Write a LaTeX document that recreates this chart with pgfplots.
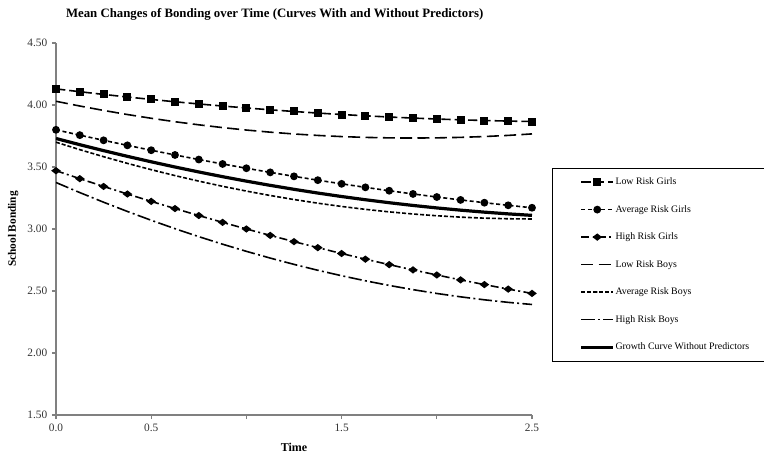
\documentclass[border=0pt]{standalone}
\usepackage{fontspec}
\setmainfont{Liberation Serif}
\usepackage{pgfplots}
\usepackage{pgfplotstable}
\pgfplotsset{compat=1.18}

% t, low/average/high risk girls, low/average/high risk boys, growth curve
\pgfplotstableread{
t     lrg    arg    hrg    lrb    arb    hrb    gc
0.000 4.1300 3.8000 3.4700 4.0300 3.7000 3.3750 3.7300
0.125 4.1072 3.7570 3.4059 3.9918 3.6400 3.2938 3.6800
0.250 4.0854 3.7152 3.3433 3.9562 3.5831 3.2160 3.6320
0.375 4.0646 3.6746 3.2823 3.9232 3.5292 3.1415 3.5860
0.500 4.0449 3.6353 3.2228 3.8929 3.4784 3.0705 3.5420
0.625 4.0261 3.5971 3.1649 3.8652 3.4307 3.0027 3.5000
0.750 4.0084 3.5602 3.1085 3.8402 3.3860 2.9384 3.4600
0.875 3.9917 3.5245 3.0536 3.8178 3.3443 2.8774 3.4220
1.000 3.9760 3.4900 3.0003 3.7980 3.3057 2.8198 3.3860
1.125 3.9613 3.4567 2.9485 3.7809 3.2702 2.7656 3.3520
1.250 3.9477 3.4247 2.8983 3.7664 3.2377 2.7147 3.3200
1.375 3.9350 3.3939 2.8496 3.7546 3.2082 2.6672 3.2900
1.500 3.9234 3.3643 2.8024 3.7454 3.1818 2.6231 3.2620
1.625 3.9128 3.3359 2.7568 3.7388 3.1585 2.5823 3.2360
1.750 3.9032 3.3087 2.7127 3.7349 3.1382 2.5449 3.2120
1.875 3.8946 3.2827 2.6702 3.7336 3.1210 2.5109 3.1900
2.000 3.8870 3.2580 2.6292 3.7350 3.1068 2.4802 3.1700
2.125 3.8804 3.2345 2.5897 3.7390 3.0957 2.4529 3.1520
2.250 3.8749 3.2122 2.5518 3.7457 3.0876 2.4290 3.1360
2.375 3.8704 3.1911 2.5155 3.7549 3.0826 2.4084 3.1220
2.500 3.8669 3.1713 2.4806 3.7669 3.0806 2.3913 3.1100
}\bonding

\begin{document}
\begin{tikzpicture}
\useasboundingbox (0,0) rectangle (573pt,346.5pt);
\node[font=\bfseries\fontsize{9.6}{12}\selectfont] at (206pt,336pt)
  {Mean Changes of Bonding over Time (Curves With and Without Predictors)};
\begin{axis}[
  at={(42pt,35.25pt)}, anchor=south west,
  scale only axis, width=357pt, height=279pt,
  xmin=0, xmax=2.5, ymin=1.5, ymax=4.5,
  axis x line*=bottom, axis y line*=left,
  axis line style={draw=gray, line width=0.9pt},
  tick align=outside, major tick length=3pt,
  tick style={gray, line width=0.8pt},
  xtick={0,0.5,1,1.5,2,2.5},
  xticklabels={0.0,0.5,,1.5,,2.5},
  ytick={1.5,2,2.5,3,3.5,4,4.5},
  yticklabels={1.50,2.00,2.50,3.00,3.50,4.00,4.50},
  ticklabel style={font=\fontsize{8.5}{10}\selectfont, text=black!80},
  xlabel={\textbf{Time}},
  ylabel={\textbf{School Bonding}},
  xlabel style={font=\fontsize{9}{11}\selectfont, yshift=-2pt},
  ylabel style={font=\fontsize{8.5}{10}\selectfont},
  legend image code/.code={%
    \path (0pt,0pt);
    \draw[mark repeat=2,mark phase=2] plot coordinates {(7.5pt,0pt)(19.5pt,0pt)(31.5pt,0pt)};},
  legend style={at={(rel axis cs:1.042,0.664)}, anchor=north west,
    draw=black, line width=0.5pt, inner xsep=13pt, inner ysep=6.5pt,
    font=\fontsize{7.4}{9}\selectfont, row sep=13pt,
    nodes={inner sep=0.5pt},
    /tikz/every even column/.append style={column sep=0pt}},
  legend cell align=left,
  every axis plot/.append style={black, line width=1.2pt},
]
\addplot[dash pattern=on 7pt off 3pt, mark=square*, mark size=2.4pt, mark options={solid}]
  table[x=t, y=lrg] {\bonding};
\addlegendentry{Low Risk Girls}
\addplot[dash pattern=on 3pt off 2pt, mark=*, mark size=2.3pt, mark options={solid}]
  table[x=t, y=arg] {\bonding};
\addlegendentry{Average Risk Girls}
\addplot[dash pattern=on 6pt off 2.5pt on 1.5pt off 2.5pt, mark=diamond*, mark size=2.5pt,
  mark options={solid, xscale=1.4, yscale=0.8}]
  table[x=t, y=hrg] {\bonding};
\addlegendentry{High Risk Girls}
\addplot[dash pattern=on 9pt off 4pt]
  table[x=t, y=lrb] {\bonding};
\addlegendentry{Low Risk Boys}
\addplot[dash pattern=on 3pt off 1.5pt]
  table[x=t, y=arb] {\bonding};
\addlegendentry{Average Risk Boys}
\addplot[dash pattern=on 10pt off 2.5pt on 1.5pt off 2.5pt]
  table[x=t, y=hrb] {\bonding};
\addlegendentry{High Risk Boys}
\addplot[line width=2.4pt]
  table[x=t, y=gc] {\bonding};
\addlegendentry{Growth Curve Without Predictors}
\end{axis}
\end{tikzpicture}
\end{document}
